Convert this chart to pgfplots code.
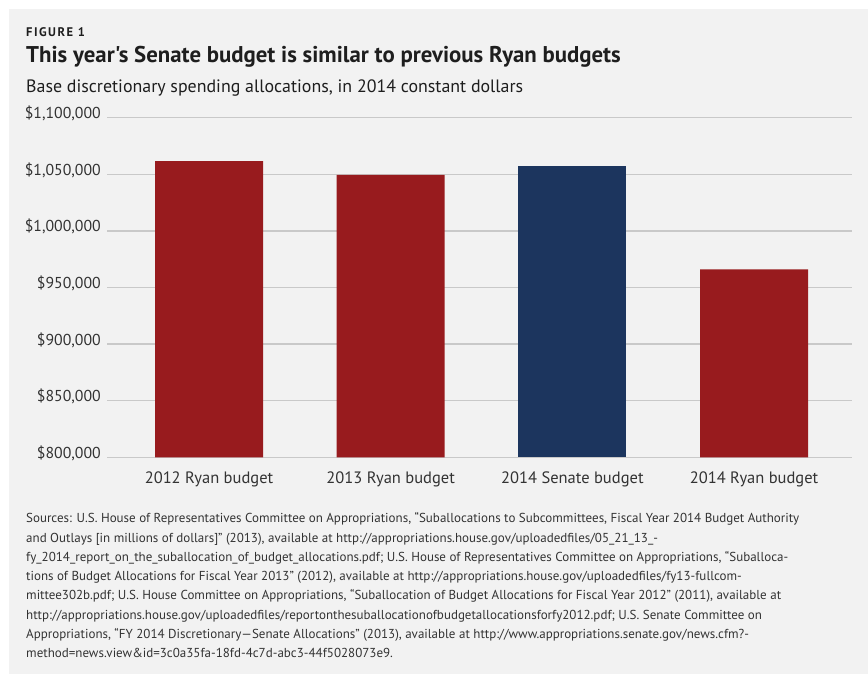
\documentclass[border=0pt]{standalone}
\usepackage{fontspec}
\setmainfont{PT Sans}
\newfontfamily\plainfont{PT Sans}
\usepackage{pgfplots}
\pgfplotsset{compat=1.18}
\definecolor{bg}{HTML}{F2F2F2}
\definecolor{ryan}{HTML}{981B1E}
\definecolor{senate}{HTML}{1C355E}
\definecolor{gridc}{HTML}{C9C9C9}
\definecolor{txt}{HTML}{1E1E1E}
\definecolor{lbl}{HTML}{333333}
\newcommand{\srcfont}{\fontsize{13bp}{15bp}\selectfont}
\begin{document}
\begin{tikzpicture}
\fill[white] (0,0) rectangle (868bp,674bp);
\fill[bg] (9bp,0) rectangle (868bp,665bp);
\path[use as bounding box] (0,0) rectangle (868bp,674bp);
\node[anchor=base west, inner sep=0, text=txt, font=\fontsize{12.5bp}{14bp}\selectfont\bfseries\addfontfeature{LetterSpace=12}] at (26bp,637bp) {FIGURE 1};
\node[anchor=base west, inner sep=0, text=txt, font=\plainfont\fontsize{22.8bp}{26bp}\selectfont\bfseries] at (26bp,611bp) {This year's Senate budget is similar to previous Ryan budgets};
\node[anchor=base west, inner sep=0, text=txt, font=\fontsize{17.9bp}{21bp}\selectfont] at (26bp,581bp) {Base discretionary spending allocations, in 2014 constant dollars};
\begin{scope}[every node/.style={anchor=base west, inner sep=0, text=lbl, font=\srcfont}]
\node at (26bp,151bp) {Sources: U.S. House of Representatives Committee on Appropriations, “Suballocations to Subcommittees, Fiscal Year 2014 Budget Authority};
\node at (26bp,131.75bp) {and Outlays [in millions of dollars]” (2013), available at http://appropriations.house.gov/uploadedfiles/05\_21\_13\_-};
\node at (26bp,112.5bp) {fy\_2014\_report\_on\_the\_suballocation\_of\_budget\_allocations.pdf; U.S. House of Representatives Committee on Appropriations, “Suballoca-};
\node at (26bp,93.25bp) {tions of Budget Allocations for Fiscal Year 2013” (2012), available at http://appropriations.house.gov/uploadedfiles/fy13-fullcom-};
\node at (26bp,74bp) {mittee302b.pdf; U.S. House Committee on Appropriations, “Suballocation of Budget Allocations for Fiscal Year 2012” (2011), available at};
\node at (26bp,54.75bp) {http://appropriations.house.gov/uploadedfiles/reportonthesuballocationofbudgetallocationsforfy2012.pdf; U.S. Senate Committee on};
\node at (26bp,35.5bp) {Appropriations, “FY 2014 Discretionary—Senate Allocations” (2013), available at http://www.appropriations.senate.gov/news.cfm?-};
\node at (26bp,16.25bp) {method=news.view\&id=3c0a35fa-18fd-4c7d-abc3-44f5028073e9.};
\end{scope}
\begin{axis}[
  at={(107bp,216.7bp)}, anchor=south west,
  scale only axis, width=745bp, height=339.6bp,
  xmin=-0.5614, xmax=3.539, ymin=800000, ymax=1100000,
  ytick={800000,850000,900000,950000,1000000,1050000,1100000},
  xtick={0,1,2,3},
  xticklabels={2012 Ryan budget, 2013 Ryan budget, 2014 Senate budget, 2014 Ryan budget},
  ymajorgrids, grid style={gridc, line width=1.3bp},
  axis line style={draw=none}, major tick length=0pt, tick style={draw=none},
  scaled y ticks=false,
  /pgf/number format/assume math mode=true,
  yticklabel={\$\pgfmathprintnumber[fixed,precision=0,1000 sep={,}]{\tick}},
  yticklabel style={anchor=base east, inner sep=0pt, xshift=-6bp, yshift=-1bp, text=lbl, font=\fontsize{15.8bp}{18bp}\selectfont},
  xticklabel style={anchor=base, inner sep=0pt, yshift=-26.7bp, text=lbl, font=\fontsize{16.5bp}{19bp}\selectfont},
]
\addplot[ybar, bar width=108bp, bar shift=0pt, fill=ryan, draw=none] coordinates {(0,1061700) (1,1049500) (3,966100)};
\addplot[ybar, bar width=108bp, bar shift=0pt, fill=senate, draw=none] coordinates {(2,1057300)};
\end{axis}
\end{tikzpicture}
\end{document}
